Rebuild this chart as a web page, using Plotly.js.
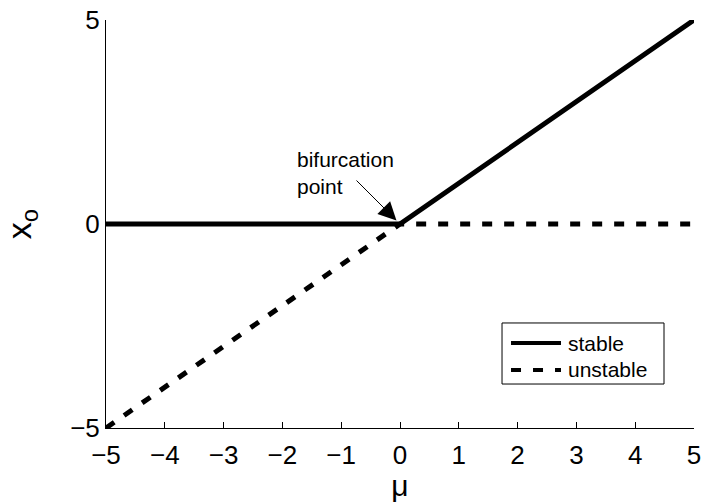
<!DOCTYPE html>
<html>
<head>
<meta charset="utf-8">
<script src="https://cdn.plot.ly/plotly-3.0.1.min.js"></script>
<style>
  html, body { margin: 0; padding: 0; background: #fff; }
  #chart { width: 702px; height: 502px; }
</style>
</head>
<body>
<div id="chart"></div>
<script>
// Transcritical bifurcation diagram: equilibrium x_o versus parameter mu.
const muStable = [-5, 0, 5];
const xStable = [0, 0, 5];
const muUnstable = [-5, 0, 5];
const xUnstable = [-5, 0, 0];
const xTickVals = [-5, -4, -3, -2, -1, 0, 1, 2, 3, 4, 5];
const yTickVals = [-5, 0, 5];
const seriesNames = ['stable', 'unstable'];

const FONT = 'Liberation Sans, Arial, Helvetica, sans-serif';
const LINE_W = 5;
const DASH = '10px,12px';

const traces = [
  {
    x: muStable, y: xStable, name: seriesNames[0], mode: 'lines',
    line: { color: '#000', width: LINE_W }, showlegend: false, hoverinfo: 'skip'
  },
  {
    x: muUnstable, y: xUnstable, name: seriesNames[1], mode: 'lines',
    line: { color: '#000', width: LINE_W, dash: DASH }, showlegend: false, hoverinfo: 'skip'
  }
];

// Hand-built legend box in paper coordinates
const legBox = { x0: 0.6735, x1: 0.949, y0: 0.1078, y1: 0.2574 };
const legRows = [0.2083, 0.1422];
const legLineX = [0.6888, 0.7738];
const legTextX = 0.7820;

const shapes = [
  { type: 'rect', xref: 'paper', yref: 'paper', x0: legBox.x0, x1: legBox.x1, y0: legBox.y0, y1: legBox.y1,
    line: { color: '#000', width: 1 }, fillcolor: '#fff', layer: 'above' },
  { type: 'line', xref: 'paper', yref: 'paper', x0: legLineX[0], x1: legLineX[1], y0: legRows[0], y1: legRows[0],
    line: { color: '#000', width: 4 }, layer: 'above' },
  { type: 'line', xref: 'paper', yref: 'paper', x0: legLineX[0], x1: legLineX[1], y0: legRows[1], y1: legRows[1],
    line: { color: '#000', width: 4, dash: DASH }, layer: 'above' }
];

const annotations = [
  { xref: 'paper', yref: 'paper', x: legTextX, y: legRows[0], xanchor: 'left', yanchor: 'middle',
    text: seriesNames[0], showarrow: false, font: { family: FONT, size: 21, color: '#000' } },
  { xref: 'paper', yref: 'paper', x: legTextX, y: legRows[1], xanchor: 'left', yanchor: 'middle',
    text: seriesNames[1], showarrow: false, font: { family: FONT, size: 21, color: '#000' } },
  // arrow pointing at the bifurcation point
  { x: 0, y: 0, xref: 'x', yref: 'y', text: '', showarrow: true, arrowhead: 2, arrowsize: 3.6,
    arrowwidth: 1, arrowcolor: '#000', ax: -45, ay: -45, standoff: 5 },
  { xref: 'paper', yref: 'paper', x: 0.321, y: 0.692, xanchor: 'left', yanchor: 'top', align: 'left',
    text: 'bifurcation<br>point', showarrow: false, font: { family: FONT, size: 21, color: '#000' } }
];

const axisCommon = {
  showline: true, linecolor: '#000', linewidth: 1, mirror: false,
  ticks: 'inside', ticklen: 6, tickcolor: '#000', tickwidth: 1,
  showgrid: false, zeroline: false, tickfont: { family: FONT, size: 26, color: '#000' }
};

const layout = {
  width: 702, height: 502,
  margin: { l: 106, r: 8, t: 20, b: 74 },
  paper_bgcolor: '#fff', plot_bgcolor: '#fff',
  showlegend: false,
  xaxis: Object.assign({}, axisCommon, {
    range: [-5, 5], tickvals: xTickVals, ticklabelstandoff: 4,
    title: { text: 'μ', font: { family: FONT, size: 30, color: '#000' }, standoff: 3 }
  }),
  yaxis: Object.assign({}, axisCommon, {
    range: [-5, 5], tickvals: yTickVals,
    title: { text: 'x<sub>o</sub>', font: { family: FONT, size: 34, color: '#000' }, standoff: 36 }
  }),
  shapes: shapes,
  annotations: annotations
};

Plotly.newPlot('chart', traces, layout, { staticPlot: true, displayModeBar: false });
</script>
</body>
</html>
